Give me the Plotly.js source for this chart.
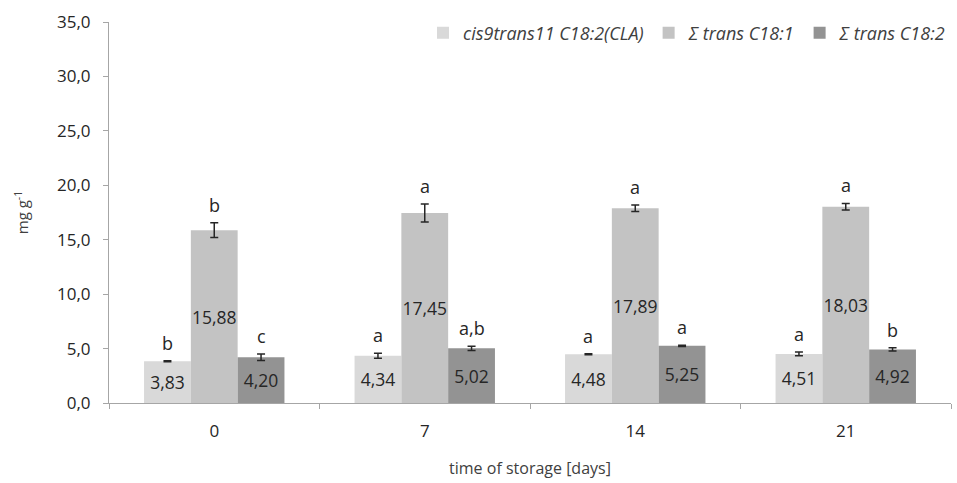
<!DOCTYPE html>
<html><head><meta charset="utf-8">
<script src="https://cdn.plot.ly/plotly-3.0.1.min.js"></script>
<style>html,body{margin:0;padding:0;background:#fff}#c{width:957px;height:483px}</style>
</head><body><div id="c"></div>
<script>
const categories = ["0", "7", "14", "21"];
const seriesNames = ["cis9trans11 C18:2(CLA)", "Σ trans C18:1", "Σ trans C18:2"];
const claValues = [3.83, 4.34, 4.48, 4.51];
const c181Values = [15.88, 17.45, 17.89, 18.03];
const c182Values = [4.20, 5.02, 5.25, 4.92];
const claErr = [0.05, 0.23, 0.05, 0.18];
const c181Err = [0.68, 0.82, 0.29, 0.30];
const c182Err = [0.30, 0.20, 0.05, 0.15];
const claLetters = ["b", "a", "a", "a"];
const c181Letters = ["b", "a", "a", "a"];
const c182Letters = ["c", "a,b", "a", "b"];
const colors = ["#d9d9d9", "#c3c3c3", "#939393"];

const values = [claValues, c181Values, c182Values];
const errs = [claErr, c181Err, c182Err];
const letters = [claLetters, c181Letters, c182Letters];

const traces = values.map((v, i) => ({
  type: 'bar', name: seriesNames[i], x: categories, y: v,
  marker: {color: colors[i]},
  error_y: {type: 'data', array: errs[i], visible: true, color: '#262626', thickness: 1.5, width: 4},
  texttemplate: '%{y:.2f}', textposition: 'inside', insidetextanchor: 'middle',
  textfont: {family: 'Open Sans', size: 17.5, color: '#262626'},
  textangle: 0, constraintext: 'none', hoverinfo: 'none'
}));

const offsets = [-2/9, 0, 2/9];
const annotations = [];
values.forEach((v, i) => {
  v.forEach((val, j) => {
    annotations.push({
      xref: 'x', yref: 'y', x: j + offsets[i], y: val + errs[i][j],
      text: letters[i][j], showarrow: false, yanchor: 'bottom', yshift: 4,
      font: {family: 'Open Sans', size: 18, color: '#262626'}
    });
  });
});

const layout = {
  width: 957, height: 483,
  margin: {l: 109, r: 6, t: 22, b: 80},
  paper_bgcolor: '#fff', plot_bgcolor: '#fff',
  separators: ',.',
  barmode: 'group', bargap: 0.333, bargroupgap: 0,
  showlegend: true,
  legend: {orientation: 'h', x: 1, xanchor: 'right', y: 0.971, yanchor: 'middle',
    font: {family: 'Open Sans', size: 18, color: '#404040', style: 'italic'},
    itemwidth: 30, tracegroupgap: 0, traceorder: 'normal', bgcolor: 'rgba(0,0,0,0)'},
  xaxis: {type: 'category', tickson: 'boundaries', ticks: 'outside', ticklen: 5,
    tickcolor: '#a6a6a6', showline: true, linecolor: '#a6a6a6', linewidth: 1,
    showgrid: false, ticklabelstandoff: 13, tickfont: {family: 'Open Sans', size: 17, color: '#262626'},
    title: {text: 'time of storage [days]', standoff: 21, font: {family: 'Open Sans', size: 16, color: '#404040'}}},
  yaxis: {range: [0, 35], dtick: 5, tickformat: '.1f', ticks: 'outside', ticklen: 5,
    tickcolor: '#a6a6a6', showline: true, linecolor: '#a6a6a6', linewidth: 1,
    showgrid: false, zeroline: false, ticklabelstandoff: 9, tickfont: {family: 'Open Sans', size: 17, color: '#262626'},
    title: {text: 'mg g<sup>-1</sup>', standoff: 24, font: {family: 'Open Sans', size: 15, color: '#404040'}}},
  annotations: annotations
};

Plotly.newPlot('c', traces, layout, {displayModeBar: false, staticPlot: true});
</script></body></html>
